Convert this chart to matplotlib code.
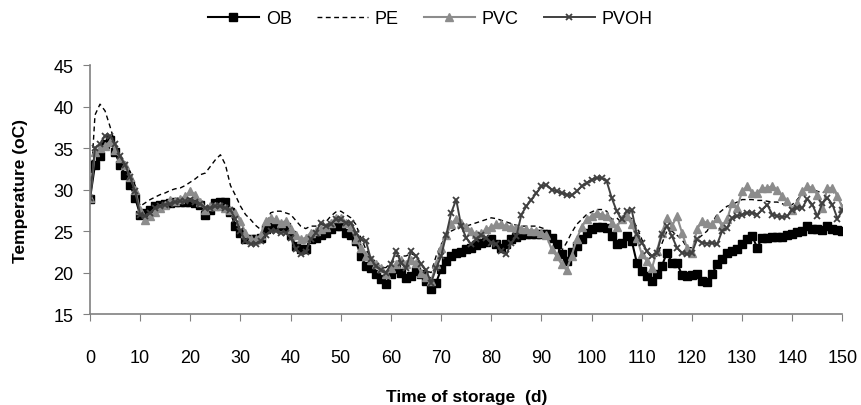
import matplotlib
matplotlib.use('Agg')
import matplotlib.pyplot as plt

plt.rcParams['font.family'] = ['Liberation Sans', 'DejaVu Sans']

# storage day 0..150
days = list(range(151))

ob = [28.9, 33.0, 34.0, 35.5, 36.0, 34.5, 33.0, 31.8, 30.6, 29.0,
      27.0, 27.2, 27.5, 28.0, 28.2, 28.3, 28.4, 28.5, 28.5, 28.5,
      28.5, 28.4, 28.2, 26.9, 27.6, 28.4, 28.5, 28.5, 27.3, 25.6,
      24.8, 24.0, 24.0, 24.0, 24.2, 25.3, 25.5, 25.6, 25.6, 25.5,
      24.5, 23.2, 22.9, 22.8, 24.0, 24.2, 24.5, 24.8, 25.2, 25.6,
      25.6, 24.8, 24.5, 23.8, 22.0, 20.8, 20.5, 19.8, 19.2, 18.6,
      19.8, 20.4, 20.0, 19.4, 19.6, 20.2, 19.8, 19.0, 18.0, 18.8,
      20.4, 21.4, 22.0, 22.3, 22.5, 22.8, 23.0, 23.3, 23.6, 23.7,
      24.0, 23.4, 23.0, 23.5, 24.0, 24.3, 24.5, 24.7, 24.6, 24.6,
      24.6, 24.6, 24.2, 23.4, 22.2, 21.4, 22.5, 23.2, 24.0, 24.8,
      25.3, 25.5, 25.5, 25.4, 24.4, 23.4, 23.6, 24.4, 23.8, 21.2,
      20.2, 19.6, 19.0, 19.8, 20.8, 22.4, 21.2, 21.2, 19.7, 19.6,
      19.7, 19.8, 19.0, 18.9, 19.8, 21.0, 21.6, 22.4, 22.6, 22.8,
      23.4, 24.0, 24.4, 23.0, 24.2, 24.2, 24.3, 24.3, 24.3, 24.5,
      24.7, 24.9, 25.0, 25.6, 25.3, 25.2, 25.1, 25.6, 25.2, 25.1,
      25.0]

pe = [29.0, 39.0, 40.3, 39.5, 37.6, 35.5, 34.0, 33.2, 32.2, 30.5,
      28.0, 28.4, 28.8, 29.1, 29.4, 29.6, 29.9, 30.1, 30.2, 30.5,
      30.9, 31.3, 31.8, 32.0, 32.8, 33.6, 34.2, 33.0, 30.5, 29.3,
      28.0, 27.0, 26.4, 25.7, 25.2, 25.6, 27.2, 27.4, 27.4, 27.2,
      27.0, 26.3, 25.6, 25.3, 25.6, 25.6, 25.8, 26.1, 26.8, 27.3,
      27.4, 27.0, 26.6, 25.8, 24.2, 22.8, 21.8, 21.3, 20.6, 20.6,
      21.2, 22.0, 22.0, 22.0, 22.3, 22.0, 21.0, 20.2, 20.0, 22.0,
      23.4, 24.4, 25.0, 25.3, 25.5, 25.6, 25.8, 26.0, 26.2, 26.4,
      26.6, 26.5, 26.3, 26.1, 25.9, 25.7, 25.6, 25.6, 25.6, 25.6,
      25.4, 25.2, 23.6, 23.0, 22.6, 23.6, 24.8, 25.8, 26.4, 27.0,
      27.3, 27.6, 27.6, 27.4, 26.4, 26.6, 26.0, 26.8, 26.5, 25.5,
      24.0, 22.5, 21.8, 22.0, 23.5, 25.0, 25.0, 24.5, 24.0, 23.0,
      23.0, 24.0, 24.5, 25.0, 26.0, 27.0, 27.5, 28.0, 28.2, 28.5,
      28.8, 28.8, 28.8, 28.7, 28.7, 28.6, 28.5, 28.5, 28.3, 28.0,
      28.2, 28.8, 29.6, 30.2, 30.0, 29.8, 29.6, 30.0, 29.8, 29.0,
      28.0]

pvc = [29.0, 34.5, 35.0, 35.3, 35.8, 34.8, 33.8, 33.0, 31.5, 30.0,
       27.5, 26.3, 26.8, 27.3, 27.8, 28.2, 28.8, 28.6, 28.9, 29.2,
       29.8, 29.4, 28.5, 27.5, 28.0, 28.0, 28.0, 27.8, 27.5, 27.2,
       26.2, 24.8, 24.0, 24.0, 24.5, 26.2, 26.6, 26.4, 26.0, 26.2,
       25.2, 24.5, 24.0, 24.2, 24.8, 25.0, 25.2, 25.5, 26.0, 26.6,
       26.6, 26.0, 25.5, 24.0, 23.0, 22.0, 21.5, 21.0, 20.5, 19.8,
       20.5, 21.0, 21.5, 21.0, 21.5, 21.2, 20.0, 19.5, 19.0, 21.0,
       23.0, 24.5, 25.8, 26.5, 26.0, 25.5, 25.0, 24.6, 24.8, 25.2,
       25.5, 25.8, 25.8, 25.6, 25.5, 25.4, 25.3, 25.2, 25.0, 25.0,
       24.8, 24.5, 22.8, 22.0, 21.0, 20.3, 22.0, 24.0, 25.5, 26.4,
       26.8, 27.2, 27.0, 26.8, 26.0, 25.5, 26.5, 26.8, 25.8, 24.2,
       22.2, 21.4, 20.5, 22.6, 24.8, 26.6, 25.6, 26.8, 24.8, 23.0,
       22.4, 25.2, 26.2, 26.0, 25.8, 26.6, 25.6, 26.4, 28.4, 27.8,
       29.8, 30.4, 29.6, 29.6, 30.2, 30.2, 30.4, 30.0, 29.2, 28.6,
       27.6, 28.4, 29.8, 30.4, 30.2, 29.4, 27.8, 30.2, 30.2, 29.2,
       27.8]

pvoh = [29.0, 35.0, 35.5, 36.5, 36.5, 35.5, 34.0, 33.0, 31.5, 29.8,
        27.0, 26.8, 27.2, 27.8, 28.0, 28.2, 28.3, 28.5, 28.6, 28.6,
        28.7, 28.5, 28.3, 27.8, 27.8, 28.0, 28.0, 27.8, 27.5, 26.5,
        25.0, 23.8, 23.4, 23.5, 23.8, 24.5, 25.0, 25.0, 24.8, 24.8,
        24.2, 22.8, 22.2, 22.5, 24.0, 24.8, 26.0, 25.6, 25.8, 26.4,
        26.4, 26.0, 26.0, 24.8, 24.0, 23.8, 21.6, 20.8, 20.3, 20.0,
        21.0, 22.6, 21.2, 20.6, 22.6, 22.0, 21.0, 20.3, 18.8, 20.5,
        22.0, 24.5, 27.2, 28.8, 25.6, 24.2, 23.4, 24.0, 24.5, 24.2,
        23.6, 23.4, 22.6, 22.2, 23.6, 24.4, 27.0, 28.0, 28.8, 29.6,
        30.4, 30.6, 30.0, 29.8, 29.6, 29.4, 29.3, 29.8, 30.4, 30.8,
        31.2, 31.4, 31.4, 31.0, 29.0, 27.4, 26.4, 27.4, 27.5, 24.6,
        23.6, 22.6, 22.0, 22.4, 24.6, 25.6, 24.4, 23.0, 22.4, 22.2,
        22.4, 24.0, 23.6, 23.5, 23.6, 23.4, 25.0, 25.4, 26.6, 26.8,
        27.0, 27.2, 27.2, 27.0, 27.6, 28.2, 27.0, 26.8, 26.7, 26.8,
        27.6, 27.8, 27.8, 28.9, 28.2, 26.8, 28.4, 29.0, 28.2, 26.5,
        27.5]

fig = plt.figure(figsize=(8.61, 4.06), dpi=100)
ax = fig.add_axes([0.1045, 0.224, 0.874, 0.613])

ax.plot(days, ob, color='black', lw=1.5, marker='s', ms=5.5, label='OB')
ax.plot(days, pe, color='black', lw=1.0, ls=(0, (3.5, 2.5)), label='PE')
ax.plot(days, pvc, color='#8c8c8c', lw=1.5, marker='^', ms=6, label='PVC')
ax.plot(days, pvoh, color='#404040', lw=1.4, marker='x', ms=4.5, mew=1.3, label='PVOH')

ax.set_xlim(0, 150)
ax.set_ylim(15, 45)
ax.set_xticks(range(0, 151, 10))
ax.set_yticks(range(15, 46, 5))

for side in ['top', 'right']:
    ax.spines[side].set_visible(False)
for side in ['left', 'bottom']:
    ax.spines[side].set_color('#808080')
    ax.spines[side].set_linewidth(1.2)
ax.tick_params(axis='x', direction='out', length=5, color='#808080', pad=20, labelsize=13)
ax.tick_params(axis='y', direction='out', length=5, color='#808080', pad=7, labelsize=13)

ax.set_xlabel('Time of storage  (d)', fontsize=12.5, fontweight='bold', labelpad=17)
ax.set_ylabel('Temperature (oC)', fontsize=12.5, fontweight='bold', labelpad=18)

fig.legend(loc='upper center', bbox_to_anchor=(0.5, 1.012), ncol=4, frameon=False,
           fontsize=13, handlelength=2.8, handletextpad=0.4, columnspacing=1.4)

fig.savefig('out.png', dpi=100)
